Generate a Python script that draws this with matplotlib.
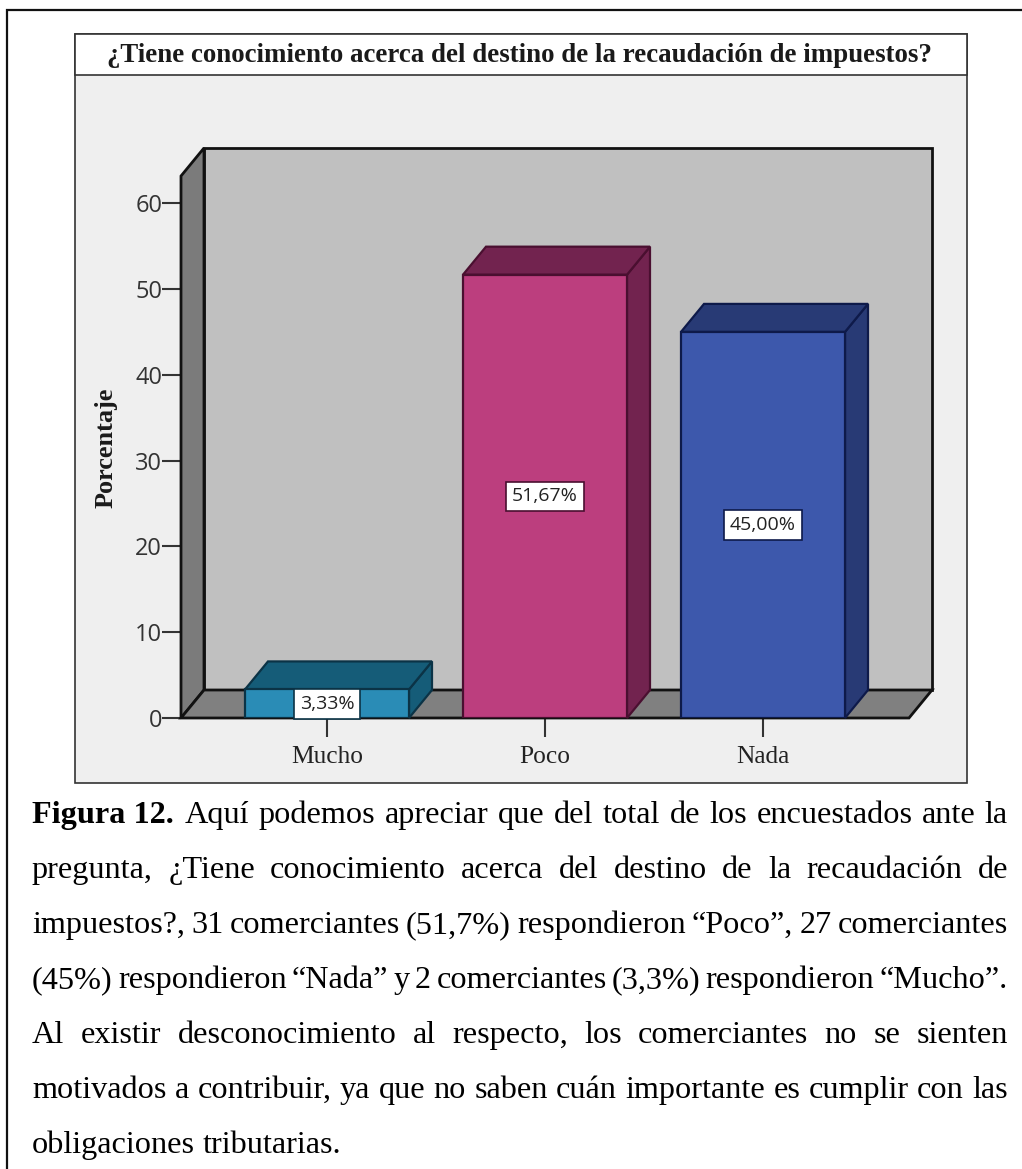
import matplotlib
matplotlib.use("Agg")
import matplotlib.pyplot as plt
from matplotlib.patches import Rectangle

W, H = 1022, 1169

categories = ["Mucho", "Poco", "Nada"]
values = [3.33, 51.67, 45.00]
value_labels = ["3,33%", "51,67%", "45,00%"]
yticks = [0, 10, 20, 30, 40, 50, 60]

title = "¿Tiene conocimiento acerca del destino de la recaudación de impuestos?"
ylabel = "Porcentaje"

caption = [
    "Aquí podemos apreciar que del total de los encuestados ante la",
    "pregunta, ¿Tiene conocimiento acerca del destino de la recaudación de",
    "impuestos?, 31 comerciantes (51,7%) respondieron “Poco”, 27 comerciantes",
    "(45%) respondieron “Nada” y 2 comerciantes (3,3%) respondieron “Mucho”.",
    "Al existir desconocimiento al respecto, los comerciantes no se sienten",
    "motivados a contribuir, ya que no saben cuán importante es cumplir con las",
    "obligaciones tributarias.",
]
caption_head = "Figura 12."

front = ["#2a8cb6", "#bc3e7e", "#3d58ac"]
dark = ["#155c78", "#72234f", "#283a75"]
edge = ["#0b3346", "#4a0f30", "#0e1a4a"]

fig = plt.figure(figsize=(W / 100, H / 100), dpi=100, facecolor="white")

# page layer in pixels
page = fig.add_axes([0, 0, 1, 1], zorder=0)
page.set_xlim(0, W)
page.set_ylim(H, 0)
page.axis("off")

page.plot([W, 7, 7], [10, 10, H], color="#111111", lw=1.6, solid_joinstyle="miter")
page.add_patch(Rectangle((75, 34), 892, 749, fc="#efefef", ec="#333333", lw=1.2))
page.add_patch(Rectangle((75, 34), 892, 41, fc="white", ec="#333333", lw=1.2))
page.text(519.5, 55, title, family="Liberation Serif", weight="bold", fontsize=19.4,
          ha="center", va="center", color="#1a1a1a")
page.text(106, 448, ylabel, family="Liberation Serif", weight="bold", fontsize=18.9,
          rotation=90, ha="center", va="center", color="#1a1a1a")

# justified caption, word by word
fig.canvas.draw()
rend = fig.canvas.get_renderer()
left, right = 32, 1008
base0, step = 823, 55
cap_size = 23.2


def width(s, **kw):
    t = page.text(0, 0, s, family="Liberation Serif", fontsize=cap_size, **kw)
    w = t.get_window_extent(rend).width
    t.remove()
    return w


head_w = width(caption_head, weight="bold")
page.text(left, base0, caption_head, family="Liberation Serif", weight="bold",
          fontsize=cap_size, va="baseline", color="black")
for i, line in enumerate(caption):
    words = line.split(" ")
    x0 = left
    if i == 0:
        x0 = left + head_w + 11
    y = base0 + i * step
    ws = [width(w) for w in words]
    gap = 8.0
    if i < len(caption) - 1:
        gap = (right - x0 - sum(ws)) / (len(words) - 1)
    x = x0
    for w, wd in zip(words, ws):
        page.text(x, y, w, family="Liberation Serif", fontsize=cap_size, va="baseline", color="black")
        x += wd + gap

# plot layer: x is category position, y is percent
px_cat = 218.0
px_y = 8.58
x_lo, x_hi = 181, 909
y_bot, y_top = 718, 176
ax = fig.add_axes([x_lo / W, 1 - y_bot / H, (x_hi - x_lo) / W, (y_bot - y_top) / H], zorder=1)
ax.patch.set_alpha(0)
ax.set_xlim(-(327 - x_lo) / px_cat, 2 + (x_hi - 763) / px_cat)
ax.set_ylim(0, (y_bot - y_top) / px_y)
for s in ax.spines.values():
    s.set_visible(False)

dx = 23 / px_cat
dy = 28 / px_y
bw = 164 / px_cat
xa, xb = ax.get_xlim()
ya, yb = ax.get_ylim()
line_k = dict(edgecolor="#111111", linewidth=2.0, clip_on=False, joinstyle="miter")

ax.fill([xa + dx, xb + dx, xb + dx, xa + dx], [dy, dy, yb + dy, yb + dy], facecolor="#c0c0c0", zorder=1, **line_k)
ax.fill([xa, xa + dx, xa + dx, xa], [0, dy, yb + dy, yb], facecolor="#7b7b7b", zorder=2, **line_k)
ax.fill([xa, xb, xb + dx, xa + dx], [0, 0, dy, dy], facecolor="#808080", zorder=2, **line_k)

for i, v in enumerate(values):
    l, r = i - bw / 2, i + bw / 2
    k = dict(edgecolor=edge[i], linewidth=1.6, clip_on=False, joinstyle="miter", zorder=3)
    ax.fill([r, r + dx, r + dx, r], [0, dy, v + dy, v], facecolor=dark[i], **k)
    ax.fill([l, r, r + dx, l + dx], [v, v, v + dy, v + dy], facecolor=dark[i], **k)
    ax.bar(i, v, width=bw, color=front[i], edgecolor=edge[i], linewidth=1.6, zorder=4)
    ax.text(i, v / 2, value_labels[i], family="Open Sans", fontsize=14, ha="center", va="center",
            color="#222222", zorder=5, clip_on=False,
            bbox=dict(boxstyle="square,pad=0.3", fc="white", ec=edge[i], lw=1.2))

ax.set_xticks(range(len(categories)), categories, family="Liberation Serif", fontsize=18.3, color="#222222")
ax.set_yticks(yticks, [str(t) for t in yticks], family="Open Sans", fontsize=17, color="#333333")
ax.tick_params(axis="x", length=13.5, width=1.5, color="#333333", pad=7)
ax.tick_params(axis="y", length=13.5, width=1.5, color="#333333", pad=0)

fig.savefig("out.png", dpi=100)
